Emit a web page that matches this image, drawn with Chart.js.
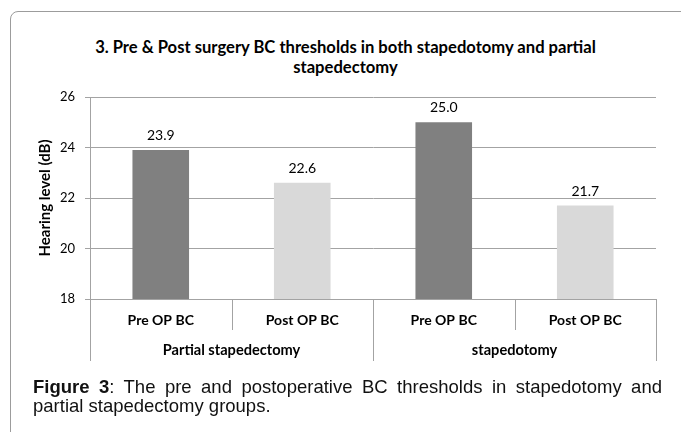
<!DOCTYPE html>
<html>
<head>
<meta charset="utf-8">
<script src="https://cdn.jsdelivr.net/npm/chart.js@4.4.0/dist/chart.umd.min.js"></script>
<style>
  html, body { margin: 0; padding: 0; background: #fff; }
  body { width: 681px; height: 432px; position: relative; overflow: hidden; }
  #frame { position: absolute; left: 10px; top: 11px; width: 720px; height: 460px;
           border: 1px solid #9c9c9c; border-radius: 8px; box-sizing: border-box; }
  #title { position: absolute; left: 10px; width: 671px; top: 37px; text-align: center;
           font-family: Lato, sans-serif; font-weight: bold; font-size: 16.6px; line-height: 20px; color: #000; }
  #chart { position: absolute; left: 0; top: 0; }
  .cap { position: absolute; left: 33px; font-family: "Liberation Sans", Arial, sans-serif;
         font-size: 18.5px; line-height: 19px; color: #111; white-space: nowrap; }
  #cap1 { top: 377px; width: 629px; text-align: justify; text-align-last: justify; white-space: normal; }
  #cap2 { top: 396px; }
</style>
</head>
<body>
<div id="frame"></div>
<div id="title">3. Pre &amp; Post surgery BC thresholds in both stapedotomy and partial<br>stapedectomy</div>
<canvas id="chart" width="681" height="432"></canvas>
<div class="cap" id="cap1"><b>Figure 3</b>: The pre and postoperative BC thresholds in stapedotomy and</div>
<div class="cap" id="cap2">partial stapedectomy groups.</div>
<script>
const categories = ["Pre OP BC", "Post OP BC", "Pre OP BC", "Post OP BC"];
const groups = ["Partial stapedectomy", "stapedotomy"];
const groupSize = [2, 2];
const values = [23.9, 22.6, 25.0, 21.7];
const barColors = ["#808080", "#d9d9d9", "#808080", "#d9d9d9"];
const yTicks = [18, 20, 22, 24, 26];
const yTitle = "Hearing level (dB)";

const gridColor = "#a3a3a3";

const overlay = {
  id: "overlay",
  afterDatasetsDraw(chart) {
    const ctx = chart.ctx;
    const meta = chart.getDatasetMeta(0);
    ctx.save();
    ctx.fillStyle = "#000";
    ctx.font = "14px Lato";
    ctx.textAlign = "center";
    ctx.textBaseline = "alphabetic";
    meta.data.forEach((bar, i) => {
      ctx.fillText(values[i].toFixed(1), bar.x, bar.y - 10);
    });
    ctx.restore();
  },
  afterDraw(chart) {
    const ctx = chart.ctx;
    const xs = chart.scales.x;
    const area = chart.chartArea;
    const n = categories.length;
    const bounds = [];
    for (let i = 0; i <= n; i++) {
      if (i === 0) bounds.push(area.left);
      else if (i === n) bounds.push(area.right);
      else bounds.push((xs.getPixelForValue(i - 1) + xs.getPixelForValue(i)) / 2);
    }
    const groupEdges = [0];
    groupSize.forEach(s => groupEdges.push(groupEdges[groupEdges.length - 1] + s));
    ctx.save();
    ctx.strokeStyle = gridColor;
    ctx.lineWidth = 1;
    bounds.forEach((bx, i) => {
      const isGroup = groupEdges.includes(i);
      const x = Math.round(bx) + 0.5;
      ctx.beginPath();
      ctx.moveTo(x, area.bottom);
      ctx.lineTo(x, isGroup ? area.bottom + 62 : area.bottom + 31);
      ctx.stroke();
    });
    ctx.fillStyle = "#000";
    ctx.font = "bold 14.6px Lato";
    ctx.textAlign = "center";
    ctx.textBaseline = "alphabetic";
    groups.forEach((g, gi) => {
      const cx = (bounds[groupEdges[gi]] + bounds[groupEdges[gi + 1]]) / 2;
      ctx.fillText(g, cx, area.bottom + 56);
    });
    ctx.restore();
  }
};

new Chart(document.getElementById("chart"), {
  type: "bar",
  data: {
    labels: categories,
    datasets: [{
      data: values,
      backgroundColor: barColors,
      borderWidth: 0,
      barPercentage: 0.4,
      categoryPercentage: 1.0
    }]
  },
  options: {
    responsive: false,
    animation: false,
    devicePixelRatio: 1,
    layout: { padding: { left: 10, right: 25, top: 97, bottom: 93 } },
    plugins: { legend: { display: false }, tooltip: { enabled: false }, title: { display: false } },
    scales: {
      x: {
        afterFit: s => { s.height = 40; },
        grid: { display: false, drawTicks: false },
        border: { display: true, color: gridColor },
        ticks: { padding: 13, autoSkip: false, maxRotation: 0, color: "#000",
                 font: { family: "Lato", size: 14, weight: "bold" } }
      },
      y: {
        min: 18, max: 26,
        afterFit: s => { s.width = 80; },
        afterBuildTicks: s => { s.ticks = yTicks.map(v => ({ value: v })); },
        grid: { color: gridColor, tickLength: 5, drawTicks: true },
        border: { display: true, color: gridColor },
        ticks: { padding: 10, color: "#000", font: { family: "Lato", size: 13 } },
        title: { display: true, text: yTitle, color: "#000", padding: { top: 26, bottom: 0 },
                 font: { family: "Lato", size: 15, weight: "bold" } }
      }
    }
  },
  plugins: [overlay]
});
</script>
</body>
</html>
